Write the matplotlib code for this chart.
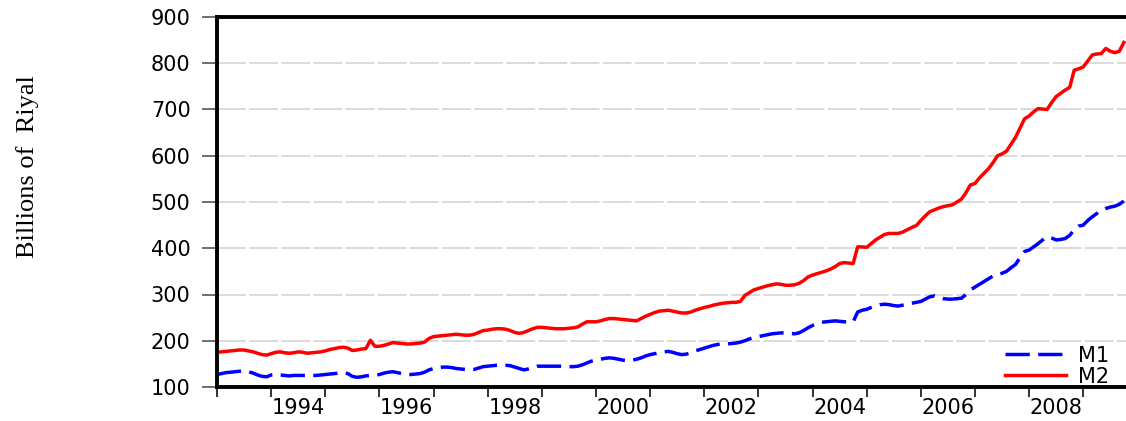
import matplotlib
matplotlib.use("Agg")
import matplotlib.pyplot as plt
import numpy as np

# Monthly data, Jan 1993 .. Oct 2009 (billions of riyal)
m2_1993 = [175, 176, 177, 178, 179, 180, 180, 178, 176, 173, 170, 169]
m2_1994 = [172, 175, 176, 174, 173, 174, 176, 175, 173, 174, 175, 176]
m2_1995 = [178, 181, 183, 185, 186, 184, 179, 180, 182, 183, 201, 188]
m2_1996 = [188, 190, 193, 196, 195, 194, 193, 193, 194, 195, 197, 205]
m2_1997 = [209, 210, 211, 212, 213, 214, 213, 212, 212, 214, 218, 222]
m2_1998 = [223, 225, 226, 226, 225, 222, 218, 216, 218, 222, 226, 229]
m2_1999 = [229, 228, 227, 226, 226, 226, 227, 228, 230, 236, 241, 241]
m2_2000 = [241, 243, 246, 248, 248, 247, 246, 245, 244, 243, 248, 253]
m2_2001 = [257, 261, 264, 265, 266, 264, 262, 260, 260, 262, 266, 269]
m2_2002 = [272, 274, 277, 279, 281, 282, 283, 283, 285, 298, 304, 310]
m2_2003 = [313, 316, 319, 321, 323, 322, 320, 320, 321, 324, 330, 338]
m2_2004 = [342, 345, 348, 351, 355, 360, 367, 369, 368, 367, 403, 403]
m2_2005 = [402, 410, 418, 424, 430, 432, 432, 432, 435, 440, 445, 449]
m2_2006 = [460, 470, 479, 483, 487, 490, 492, 494, 500, 506, 520, 537]
m2_2007 = [540, 552, 562, 572, 585, 600, 604, 610, 625, 640, 660, 680]
m2_2008 = [686, 695, 702, 701, 700, 715, 728, 735, 742, 748, 785, 788]
m2_2009 = [792, 805, 818, 820, 821, 832, 826, 823, 826, 845]

m1_1993 = [127, 129, 131, 132, 133, 134, 135, 133, 130, 126, 123, 122]
m1_1994 = [126, 127, 126, 125, 124, 125, 125, 125, 125, 125, 125, 126]
m1_1995 = [127, 128, 129, 130, 131, 129, 123, 121, 122, 124, 125, 126]
m1_1996 = [127, 130, 132, 133, 131, 129, 127, 127, 128, 129, 132, 137]
m1_1997 = [140, 141, 143, 143, 142, 140, 139, 138, 138, 138, 141, 144]
m1_1998 = [145, 146, 147, 147, 147, 146, 143, 140, 137, 139, 142, 145]
m1_1999 = [145, 145, 145, 145, 145, 144, 144, 144, 145, 148, 152, 156]
m1_2000 = [158, 160, 162, 163, 162, 160, 158, 157, 158, 160, 163, 167]
m1_2001 = [170, 172, 174, 176, 177, 175, 172, 170, 171, 174, 178, 181]
m1_2002 = [184, 187, 190, 192, 193, 193, 194, 195, 197, 200, 204, 207]
m1_2003 = [209, 211, 213, 215, 216, 217, 217, 216, 215, 217, 222, 228]
m1_2004 = [233, 237, 240, 241, 242, 243, 242, 241, 241, 241, 262, 266]
m1_2005 = [268, 272, 275, 278, 279, 278, 276, 275, 277, 279, 281, 283]
m1_2006 = [285, 290, 295, 297, 294, 291, 290, 290, 291, 292, 300, 310]
m1_2007 = [316, 322, 328, 334, 340, 343, 346, 350, 358, 365, 380, 393]
m1_2008 = [396, 403, 410, 418, 425, 422, 418, 419, 421, 428, 440, 448]
m1_2009 = [450, 460, 468, 475, 482, 486, 489, 491, 495, 502]

m2_values = (m2_1993 + m2_1994 + m2_1995 + m2_1996 + m2_1997 + m2_1998 + m2_1999
             + m2_2000 + m2_2001 + m2_2002 + m2_2003 + m2_2004 + m2_2005 + m2_2006
             + m2_2007 + m2_2008 + m2_2009)
m1_values = (m1_1993 + m1_1994 + m1_1995 + m1_1996 + m1_1997 + m1_1998 + m1_1999
             + m1_2000 + m1_2001 + m1_2002 + m1_2003 + m1_2004 + m1_2005 + m1_2006
             + m1_2007 + m1_2008 + m1_2009)

start_year = 1993
year_ticks = list(range(1993, 2010))
label_years = [1994, 1996, 1998, 2000, 2002, 2004, 2006, 2008]
y_ticks = [100, 200, 300, 400, 500, 600, 700, 800, 900]

t = start_year + np.arange(len(m2_values)) / 12.0

fig = plt.figure(figsize=(11.26, 4.21), dpi=100)
ax = fig.add_axes([217 / 1126, 34 / 421, 1 - 217 / 1126 + 0.002, 370 / 421])

ax.plot(t, m1_values, color="#0000ff", lw=2.5, dashes=(7, 2.4), label="M1",
        solid_capstyle="butt", dash_capstyle="butt")
ax.plot(t, m2_values, color="#ff0000", lw=2.5, label="M2")

ax.set_ylim(100, 900)
ax.set_xlim(1993.0, 1993.0 + 911 / 54.125)

ax.set_yticks(y_ticks)
ax.set_yticklabels([str(v) for v in y_ticks])
ax.yaxis.grid(True, color="#d8d8d8", lw=1.3, dashes=(16, 1.8))
ax.set_axisbelow(True)

ax.set_xticks(year_ticks)
ax.set_xticklabels([])
ax.set_xticks([y + 0.5 for y in label_years], minor=True)
ax.set_xticklabels([str(y) for y in label_years], minor=True)

ax.tick_params(axis="y", direction="out", length=11, width=1.2, color="#555555",
               pad=8, labelsize=15)
ax.tick_params(axis="x", which="major", direction="out", length=7, width=1.4,
               color="#333333")
ax.tick_params(axis="x", which="minor", length=0, pad=8, labelsize=15)

for side in ["left", "bottom", "top"]:
    ax.spines[side].set_linewidth(2.8)
    ax.spines[side].set_color("black")
ax.spines["right"].set_visible(False)

fig.text(0.024, 0.605, "Billions of  Riyal", rotation=90, va="center", ha="center",
         fontsize=19, family="Liberation Serif")

leg = ax.legend(loc="lower right", bbox_to_anchor=(1.0, -0.05), frameon=False,
                fontsize=15, handlelength=2.9, handletextpad=0.6, labelspacing=0.05)

fig.savefig("out.png", dpi=100)
